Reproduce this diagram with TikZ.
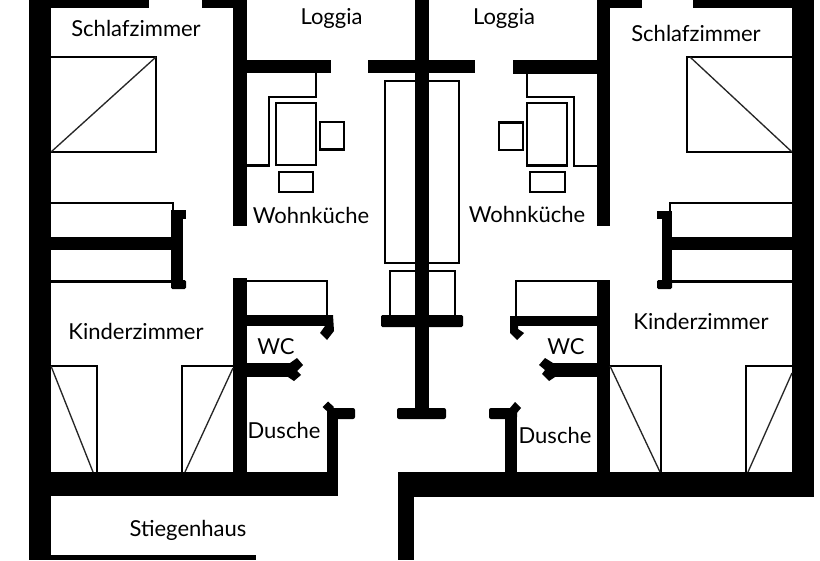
\documentclass[tikz,border=0pt]{standalone}
\usepackage{fontspec}
\setmainfont{Lato}
\tikzset{
  wall/.style={fill=black,draw=none},
  line0/.style={draw=black,line width=2pt,line join=miter,fill=none},
  diag/.style={draw=black!85,line width=1pt},
  room/.style={inner sep=0pt,font=\fontsize{16.5pt}{19pt}\selectfont,text=black,anchor=center}
}
\begin{document}
\begin{tikzpicture}[x=0.75pt,y=-0.75pt]
\useasboundingbox (0,0) rectangle (820,560);
\fill[white] (0,0) rectangle (820,560);
% outer walls
\fill[wall] (29,0) rectangle (51,560);
\fill[wall] (51,0) rectangle (149,8);
\fill[wall] (202,0) rectangle (247,8);
\fill[wall] (233,0) rectangle (247,226);
\fill[wall] (247,60) rectangle (331,73);
\fill[wall] (368,60) rectangle (475,73);
\fill[wall] (415,0) rectangle (429,418);
\fill[wall] (513,60) rectangle (597,74);
\fill[wall] (597,0) rectangle (610,226);
\fill[wall] (597,0) rectangle (642,8);
\fill[wall] (693,0) rectangle (792,8);
\fill[wall] (792,0) rectangle (814,497);
\fill[wall] (51,472) rectangle (338,496);
\fill[wall] (398,472) rectangle (814,497);
\fill[wall] (398,472) rectangle (414,560);
\fill[wall] (51,555) rectangle (256,560);
% left closet walls
\fill[wall] (51,237) rectangle (172,250);
\fill[wall] (171,211) rectangle (183,288);
\fill[wall] (171,210) rectangle (186,219);
\fill[wall,rounded corners=1pt] (171,280) rectangle (186,289);
\draw[line0] (51,203) -- (173,203) -- (173,211);
\draw[line0] (51,281.5) -- (172,281.5);
% right closet walls
\fill[wall] (672,237) rectangle (792,250);
\fill[wall] (662,211) rectangle (672,288);
\fill[wall] (657,211) rectangle (672,219);
\fill[wall,rounded corners=1pt] (657,280) rectangle (672,289);
\draw[line0] (792,203) -- (670,203) -- (670,212);
\draw[line0] (792,281.5) -- (672,281.5);
% inner lower walls left
\fill[wall] (233,278) rectangle (247,472);
\fill[wall] (247,315) rectangle (333,326);
\fill[wall] (333,315) -- (334,331) -- (327,340) -- (320,333) -- (325,326) -- (325,315) -- cycle;
\fill[wall] (247,363) rectangle (292,377);
\fill[wall] (290,363) -- (297,358) -- (303,365) -- (297,371) -- (301,375) -- (294,381) -- (288,377) -- cycle;
\fill[wall] (327,408) rectangle (338,472);
\fill[wall,rounded corners=1.5pt] (330,408) rectangle (355,419);
\fill[wall] (328,401.5) -- (334,407) -- (329,413) -- (322.5,407) -- cycle;
\draw[line0] (247,281) -- (327,281) -- (327,316);
% inner lower walls right
\fill[wall] (597,280) rectangle (610,472);
\fill[wall] (518,316) rectangle (597,326);
\fill[wall] (510,316) -- (518,316) -- (518,329) -- (524,333) -- (517,340) -- (510,333) -- cycle;
\fill[wall] (552,363) rectangle (597,377);
\fill[wall] (553,363) -- (545,358) -- (539,365) -- (545,370) -- (542,374) -- (549,381) -- (555,377) -- cycle;
\fill[wall] (505,408) rectangle (517,472);
\fill[wall,rounded corners=1.5pt] (489,408) rectangle (517,419);
\fill[wall] (515,402) -- (521,408) -- (516,414) -- (510,408) -- cycle;
\draw[line0] (597,281) -- (516,281) -- (516,317);
% centre
\draw[line0] (385,81) rectangle (459,263);
\draw[line0] (390,316) -- (390,271) -- (455,271) -- (455,316);
\fill[wall,rounded corners=1pt] (381,315) rectangle (463,327);
\fill[wall,rounded corners=1.5pt] (397,408) rectangle (446,419);
\fill[wall] (415,0) rectangle (429,418);
% beds
\draw[line0] (51,57) -- (156,57) -- (156,152) -- (51,152);
\draw[diag] (51,152) -- (156,57);
\draw[line0] (792,57) -- (687,57) -- (687,152) -- (792,152);
\draw[diag] (690,57) -- (792,152);
% wardrobes
\draw[line0] (51,366) -- (97,366) -- (97,472);
\draw[diag] (51,366) -- (93,472);
\draw[line0] (233,366) -- (182,366) -- (182,472);
\draw[diag] (233,368) -- (185,472);
\draw[line0] (610,366) -- (661,366) -- (661,472);
\draw[diag] (610,366) -- (660,472);
\draw[line0] (792,366) -- (746,366) -- (746,472);
\draw[diag] (792,373) -- (748,472);
% kitchens
\draw[line0] (316,73) -- (316,97) -- (269,97) -- (269,165.5) -- (247,165.5);
\draw[line0] (276,103) rectangle (316,165);
\draw[line0] (320,122) rectangle (344,149.5);
\draw[line0] (279,172) rectangle (313,192);
\draw[line0] (527,74) -- (527,97) -- (574,97) -- (574,166) -- (597,166);
\draw[line0] (527,103) rectangle (567,165.5);
\draw[line0] (499,122.5) rectangle (523,150);
\draw[line0] (530,172) rectangle (565,192);
% labels
\node[room] (schlafL) at (136,28.5) {Schlafzimmer};
\node[room] (schlafR) at (696,33) {Schlafzimmer};
\node[room] (logL) at (331.5,18) {Loggia};
\node[room] (logR) at (504,18) {Loggia};
\node[room] (wohnL) at (311,215) {Wohnküche};
\node[room] (wohnR) at (527,214) {Wohnküche};
\node[room] (kindL) at (136,331) {Kinderzimmer};
\node[room] (kindR) at (701,321.5) {Kinderzimmer};
\node[room] (wcL) at (276,346.5) {WC};
\node[room] (wcR) at (566,346.5) {WC};
\node[room] (duL) at (284,430.5) {Dusche};
\node[room] (duR) at (555,435) {Dusche};
\node[room] (stieg) at (188,530) {Stiegenhaus};
\end{tikzpicture}
\end{document}
